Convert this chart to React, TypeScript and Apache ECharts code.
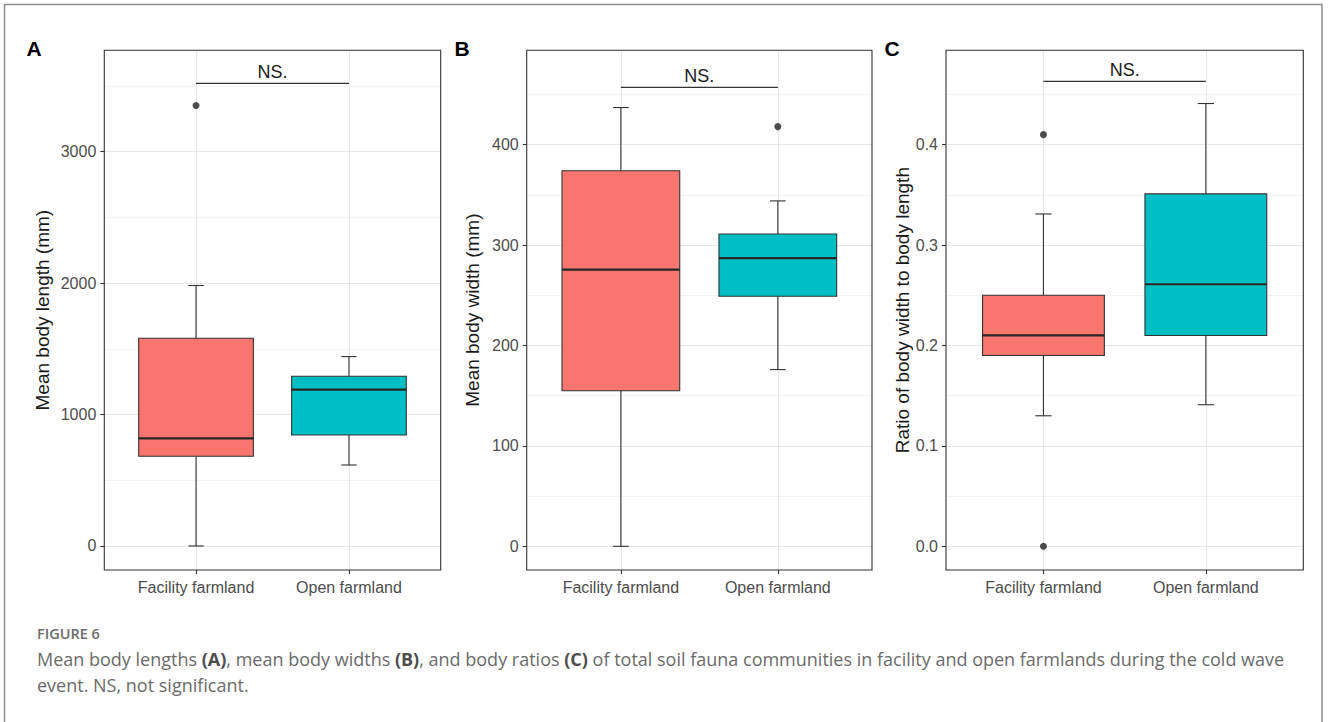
import React, { useEffect, useRef } from "react";
import * as echarts from "echarts";

// ---------- data ----------
const categories = ["Facility farmland", "Open farmland"];
const categoryPositions = [1, 2];
const groupColors = ["#F8766D", "#00BFC4"];

// each box: [lower whisker, Q1, median, Q3, upper whisker]
const lengthBoxes = [
  [0, 683, 819, 1581, 1982],
  [616, 844, 1190, 1291, 1441],
];
const lengthOutliers = [[0, 3352]]; // [group index, value]
const lengthTicks = [0, 1000, 2000, 3000];
const lengthMinorTicks = [500, 1500, 2500, 3500];
const lengthRange = [-183, 3772];
const lengthBracket = 3521;

const widthBoxes = [
  [0, 155, 275.5, 374, 437],
  [176, 249, 287, 311, 344],
];
const widthOutliers = [[1, 418]];
const widthTicks = [0, 100, 200, 300, 400];
const widthMinorTicks = [50, 150, 250, 350, 450];
const widthRange = [-23.6, 494];
const widthBracket = 457;

const ratioBoxes = [
  [0.13, 0.19, 0.21, 0.25, 0.331],
  [0.141, 0.21, 0.261, 0.351, 0.441],
];
const ratioOutliers = [
  [0, 0.41],
  [0, 0.0],
];
const ratioTicks = [0, 0.1, 0.2, 0.3, 0.4];
const ratioMinorTicks = [0.05, 0.15, 0.25, 0.35, 0.45];
const ratioRange = [-0.0236, 0.494];
const ratioBracket = 0.463;

const yTitles = [
  "Mean body length (mm)",
  "Mean body width (mm)",
  "Ratio of body width to body length",
];
const panelLetters = ["A", "B", "C"];
const bracketText = "NS.";
const figureLabel = "FIGURE 6";
const captionLine1 =
  "Mean body lengths {b|(A)}, mean body widths {b|(B)}, and body ratios {b|(C)} of total soil fauna communities in facility and open farmlands during the cold wave";
const captionLine2 = "event. NS, not significant.";

// ---------- layout / style ----------
const FONT = "'Liberation Sans', Arial, sans-serif";
const CAP_FONT = "'Open Sans', 'Noto Sans', sans-serif";
const grids = [
  { left: 104.3, top: 50.3, width: 336.4, height: 519.7 },
  { left: 526.7, top: 50.3, width: 345.3, height: 519.7 },
  { left: 946, top: 50.3, width: 357.3, height: 519.7 },
];
const nameGaps = [52, 45, 34];
const letterX = [34, 462, 892];
const BOX_HALF = 0.375;
const CAP_HALF = 0.05;

const panels = [
  { boxes: lengthBoxes, outliers: lengthOutliers, ticks: lengthTicks, minor: lengthMinorTicks, range: lengthRange, bracket: lengthBracket, fmt: (v: number) => String(v) },
  { boxes: widthBoxes, outliers: widthOutliers, ticks: widthTicks, minor: widthMinorTicks, range: widthRange, bracket: widthBracket, fmt: (v: number) => String(v) },
  { boxes: ratioBoxes, outliers: ratioOutliers, ticks: ratioTicks, minor: ratioMinorTicks, range: ratioRange, bracket: ratioBracket, fmt: (v: number) => v.toFixed(1) },
];

const boxRender = (params: any, api: any) => {
  const x = api.value(0);
  const lo = api.value(1), q1 = api.value(2), med = api.value(3), q3 = api.value(4), hi = api.value(5);
  const c = (a: number, b: number) => api.coord([a, b]);
  const [cx, yLo] = c(x, lo);
  const yQ1 = c(x, q1)[1], yMed = c(x, med)[1], yQ3 = c(x, q3)[1], yHi = c(x, hi)[1];
  const xl = c(x - BOX_HALF, q1)[0], xr = c(x + BOX_HALF, q1)[0];
  const cl = c(x - CAP_HALF, q1)[0], cr = c(x + CAP_HALF, q1)[0];
  const color = api.visual("color");
  const stroke = { stroke: "#333333", lineWidth: 1.1 };
  return {
    type: "group",
    children: [
      { type: "line", shape: { x1: cx, y1: yQ3, x2: cx, y2: yHi }, style: stroke },
      { type: "line", shape: { x1: cx, y1: yQ1, x2: cx, y2: yLo }, style: stroke },
      { type: "line", shape: { x1: cl, y1: yHi, x2: cr, y2: yHi }, style: stroke },
      { type: "line", shape: { x1: cl, y1: yLo, x2: cr, y2: yLo }, style: stroke },
      { type: "rect", shape: { x: xl, y: yQ3, width: xr - xl, height: yQ1 - yQ3 }, style: { fill: color, ...stroke } },
      { type: "line", shape: { x1: xl, y1: yMed, x2: xr, y2: yMed }, style: { stroke: "#262626", lineWidth: 2.2 } },
    ],
  };
};

const bracketRender = (params: any, api: any) => {
  const p1 = api.coord([api.value(0), api.value(2)]);
  const p2 = api.coord([api.value(1), api.value(2)]);
  return {
    type: "group",
    children: [
      { type: "line", shape: { x1: p1[0], y1: p1[1], x2: p2[0], y2: p2[1] }, style: { stroke: "#333333", lineWidth: 1.3 } },
      {
        type: "text",
        x: (p1[0] + p2[0]) / 2,
        y: p1[1] - 11.5,
        style: { text: bracketText, fill: "#1a1a1a", fontSize: 18, fontFamily: FONT, align: "center", verticalAlign: "middle" },
      },
    ],
  };
};

export default function App() {
  const ref = useRef<HTMLDivElement>(null);
  useEffect(() => {
    if (!ref.current) return;
    const chart = echarts.init(ref.current, null, { renderer: "svg" });

    const grid: any[] = [];
    const xAxis: any[] = [];
    const yAxis: any[] = [];
    const series: any[] = [];
    const graphic: any[] = [];

    panels.forEach((p, i) => {
      grid.push({ ...grids[i], show: true, borderColor: "#333333", borderWidth: 1.1, backgroundColor: "transparent", z: 5 });
      xAxis.push({
        type: "value",
        gridIndex: i,
        min: 0.4,
        max: 2.6,
        position: "bottom",
        axisLine: { show: false, onZero: false },
        axisTick: { show: true, customValues: categoryPositions, length: 4, lineStyle: { color: "#333333", width: 1.1 } },
        axisLabel: {
          customValues: categoryPositions,
          formatter: (v: number) => categories[Math.round(v) - 1] ?? "",
          color: "#4D4D4D",
          fontSize: 16,
          fontFamily: FONT,
          margin: 9,
        },
        splitLine: { show: true, lineStyle: { color: "#E8E8E8", width: 1.1 } },
      });
      yAxis.push({
        type: "value",
        gridIndex: i,
        min: p.range[0],
        max: p.range[1],
        position: "left",
        name: yTitles[i],
        nameLocation: "middle",
        nameGap: nameGaps[i],
        nameTextStyle: { color: "#1a1a1a", fontSize: 19, fontFamily: FONT },
        axisLine: { show: false, onZero: false },
        axisTick: { show: true, customValues: p.ticks, length: 4, lineStyle: { color: "#333333", width: 1.1 } },
        axisLabel: {
          customValues: p.ticks,
          formatter: p.fmt,
          color: "#4D4D4D",
          fontSize: 16,
          fontFamily: FONT,
          margin: 8,
        },
        splitLine: { show: true, lineStyle: { color: "#E8E8E8", width: 1.1 } },
      });
      yAxis.push({
        type: "value",
        gridIndex: i,
        min: p.range[0],
        max: p.range[1],
        position: "left",
        axisLine: { show: false, onZero: false },
        axisTick: { show: false, customValues: p.minor },
        axisLabel: { show: false, customValues: p.minor },
        splitLine: { show: true, lineStyle: { color: "#F0F0F0", width: 0.8 } },
      });

      series.push({
        type: "custom",
        xAxisIndex: i,
        yAxisIndex: 2 * i,
        renderItem: boxRender,
        encode: { x: 0, y: [1, 2, 3, 4, 5] },
        data: p.boxes.map((b, g) => ({ value: [categoryPositions[g], ...b], itemStyle: { color: groupColors[g] } })),
        z: 2,
      });
      series.push({
        type: "scatter",
        xAxisIndex: i,
        yAxisIndex: 2 * i,
        symbolSize: 7,
        itemStyle: { color: "#1f1f1f" },
        data: p.outliers.map(([g, v]) => [categoryPositions[g], v]),
        z: 3,
      });
      series.push({
        type: "custom",
        xAxisIndex: i,
        yAxisIndex: 2 * i,
        renderItem: bracketRender,
        encode: { x: [0, 1], y: 2 },
        data: [[categoryPositions[0], categoryPositions[1], p.bracket]],
        z: 3,
      });

      graphic.push({
        type: "text",
        x: letterX[i],
        y: 48,
        style: { text: panelLetters[i], fill: "#000", fontSize: 21, fontWeight: "bold", fontFamily: FONT, align: "center", verticalAlign: "middle" },
      });
    });

    graphic.push({
      type: "rect",
      shape: { x: 4.5, y: 4.5, width: 1317.5, height: 730 },
      style: { fill: "none", stroke: "#8f8f8f", lineWidth: 1.5 },
      silent: true,
    });
    graphic.push({
      type: "text",
      x: 37,
      y: 633,
      style: { text: figureLabel, fill: "#6b6b6b", fontSize: 14.5, fontWeight: 600, fontFamily: CAP_FONT, verticalAlign: "middle" },
    });
    graphic.push({
      type: "text",
      x: 37,
      y: 659,
      style: {
        text: captionLine1,
        fill: "#6b6b6b",
        fontSize: 18,
        fontFamily: CAP_FONT,
        verticalAlign: "middle",
        rich: { b: { fontWeight: "bold", fill: "#4d4d4d", fontSize: 18, fontFamily: CAP_FONT } },
      },
    });
    graphic.push({
      type: "text",
      x: 37,
      y: 685,
      style: { text: captionLine2, fill: "#6b6b6b", fontSize: 18, fontFamily: CAP_FONT, verticalAlign: "middle" },
    });

    chart.setOption({
      animation: false,
      backgroundColor: "#ffffff",
      grid,
      xAxis,
      yAxis,
      series,
      graphic,
    });
    return () => chart.dispose();
  }, []);
  return (
    <div
      ref={ref}
      style={{ position: "fixed", left: 0, top: 0, width: 1328, height: 722, background: "#fff" }}
    />
  );
}
